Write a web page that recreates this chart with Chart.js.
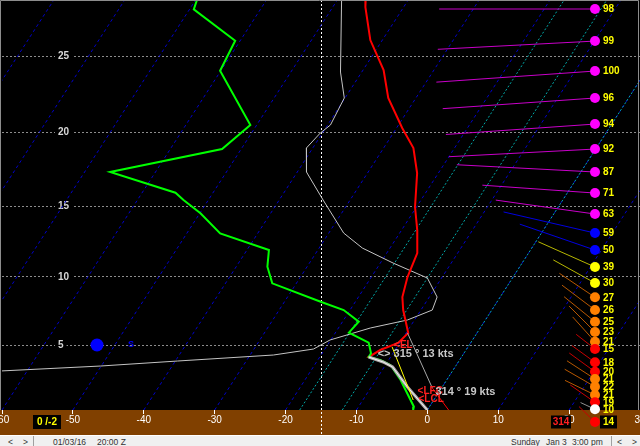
<!DOCTYPE html>
<html>
<head>
<meta charset="utf-8">
<script src="https://cdn.jsdelivr.net/npm/chart.js@4.4.1/dist/chart.umd.min.js"></script>
<style>
html, body { margin: 0; padding: 0; background: #000; }
#wrap { position: relative; width: 640px; height: 446px; overflow: hidden; }
#skew { display: block; }
#status { position: absolute; left: 0; top: 435px; width: 640px; height: 11px; background: #f0f0f0;
  border-top: 1px solid #fff; box-sizing: border-box; font: 8.5px Arial, "Liberation Sans", sans-serif; color: #333; overflow: hidden; }
#status span { position: absolute; top: 1px; line-height: 11px; white-space: pre; }
#status .sep { width: 1px; height: 11px; background: #a0a0a0; top: 0; }
</style>
</head>
<body>
<div id="wrap">
  <canvas id="skew" width="640" height="435"></canvas>
  <div id="status">
    <span style="left:8px">&lt;</span><span style="left:23px">&gt;</span><span class="sep" style="left:33px"></span>
    <span style="left:53px">01/03/16</span><span style="left:97px">20:00 Z</span>
    <span style="left:511px">Sunday</span><span style="left:546px">Jan 3</span><span style="left:572px">3:00 pm</span>
    <span class="sep" style="left:611px"></span><span style="left:617px">&lt;</span><span style="left:632px">&gt;</span>
  </div>
</div>
<script>
const FONT = 'Arial, "Liberation Sans", sans-serif';

// vertical axis: pressure (hPa), labelled in thousands of feet
const tickP = [843.1, 696.8, 571.8, 465.7, 376.0];
const tickKft = ['5', '10', '15', '20', '25'];
const P_TOP = 321.5;
const P_BOT = 1011.0;

// background isotherms (°C)
const isotherms = [-100, -90, -80, -70, -60, -50, -40, -30, -20, -10, 0, 10, 20, 30];
const zoneIsotherms = [-18, -12, 0];

// temperature profile
const tempP = [321.5, 327.9, 359.6, 391.0, 422.8, 459.8, 486.2, 521.4, 573.4, 611.4, 652.0, 697.2, 737.3, 764.6, 815.3, 838.4, 855.0, 871.9, 884.1, 896.6, 948.1, 1011.0];
const tempC = [-46.0, -45.4, -41.7, -37.1, -33.9, -29.2, -25.8, -23.0, -20.2, -17.8, -15.7, -14.9, -13.8, -12.5, -9.7, -10.2, -12.1, -13.1, -10.6, -8.8, -4.9, 0.0];

// dew point profile
const dewP = [321.5, 330.0, 360.3, 391.8, 455.9, 487.6, 519.9, 550.9, 562.3, 583.5, 617.1, 646.6, 677.4, 709.6, 747.0, 764.6, 790.0, 814.6, 837.7, 862.9, 871.6, 879.2, 891.6, 929.7, 1001.7, 1011.0];
const dewC = [-69.8, -69.4, -60.7, -60.1, -50.9, -52.7, -66.4, -55.3, -53.5, -49.9, -45.3, -36.9, -35.6, -33.4, -24.9, -20.9, -17.7, -18.1, -14.4, -13.1, -13.1, -11.2, -9.3, -6.5, -2.2, -2.0];

// low-level mixed layer (thick white)
const mixP = [871.9, 884.1, 896.6, 948.1, 1011.0];
const mixC = [-13.1, -10.6, -8.8, -4.9, 0.0];

// thin grey trace
const traceP = [321.5, 393.2, 422.8, 455.9, 466.3, 486.2, 519.9, 562.3, 616.6, 643.0, 670.5, 699.2, 737.3, 764.6, 786.2, 804.0, 831.4, 852.6, 867.0, 881.7, 894.1, 906.6];
const traceC = [-49.4, -43.0, -40.1, -39.6, -40.3, -40.9, -38.7, -33.8, -27.9, -23.9, -18.2, -12.0, -8.9, -8.4, -11.0, -15.5, -20.1, -21.6, -26.7, -39.7, -50.1, -63.8];

// parcel / helper lines
const yellowP = [847.8, 983.2];
const yellowC = [-10.7, -2.9];
const parcelP = [815.3, 950.7];
const parcelC = [-9.8, -1.3];
const parcelLowP = [950.7, 1011.0];
const parcelLowC = [-1.3, 3.0];

// winds aloft
const windP = [329.7, 360.6, 392.1, 422.8, 454.7, 487.6, 519.9, 551.4, 584.7, 616.6, 646.6, 678.0, 709.0, 737.9, 764.6, 790.0, 813.0, 835.4, 852.6, 884.9, 908.4, 927.1, 947.3, 969.5, 989.5, 1009.0];
const windDir = [270, 267, 266, 266, 266, 267, 273, 274, 278, 283, 289, 294, 299, 304, 307, 309, 315, 318, 308, 306, 306, 303, 300, 296, 305, 295];
const windKt = [98, 99, 100, 96, 94, 92, 87, 71, 63, 59, 50, 39, 30, 27, 26, 25, 23, 21, 15, 18, 20, 21, 22, 21, 19, 10];
const sfcWindDir = 314;
const sfcWindKt = 14;

// precip type marker, cursor and readouts
const precipP = 843.1;
const precipX = -46.6;
const precipType = 'S';
const cursorX = -15;
const notes = [
  { text: '<EL', p: 843.1, t: -10.6, color: '#ff2020' },
  { text: '<> 315 ° 13 kts', p: 864.6, t: -12.1, color: '#c8c8c8' },
  { text: '<LFC', p: 958.7, t: -3.1, color: '#ff2020' },
  { text: '314 ° 19 kts', p: 961.4, t: -0.5, color: '#c8c8c8' },
  { text: '<LCL', p: 981.8, t: -2.2, color: '#ff2020' }
];

const SKEW = 32.56;
const WIND_X = 23.65;
const PX_PER_KT = 1.59;
const BAND = '#804000';

const skewX = (t, p) => t + SKEW * Math.log(P_BOT / p);
const pts = (ps, ts) => ps.map((p, i) => ({ x: skewX(ts[i], p), y: p }));

function speedColor(kt) {
  if (kt >= 60) return ['#ff00ff', '#c800c8'];
  if (kt >= 50) return ['#0000ff', '#0000e0'];
  if (kt >= 30) return ['#ffff00', '#b8b800'];
  if (kt >= 21) return ['#ff8000', '#b85800'];
  if (kt >= 11) return ['#ff0000', '#c80000'];
  return ['#ffffff', '#909090'];
}

function line(label, data, color, width, dash) {
  return { label, data, showLine: true, borderColor: color, borderWidth: width, borderDash: dash || [],
    pointRadius: 0, fill: false, tension: 0 };
}

const datasets = [
  { label: 'wind', data: windP.map(p => ({ x: WIND_X, y: p })), showLine: false, clip: false,
    pointRadius: 5, pointBorderWidth: 0, pointBackgroundColor: windKt.map(k => speedColor(k)[0]) },
  { label: 'precip', data: [{ x: precipX, y: precipP }], showLine: false,
    pointRadius: 6.5, pointBorderWidth: 0, pointBackgroundColor: '#0000ff' },
  line('yellow', pts(yellowP, yellowC), '#ffff00', 1),
  line('parcelLow', pts(parcelLowP, parcelLowC), '#ff0000', 1),
  line('parcel', pts(parcelP, parcelC), '#a8a8a8', 1),
  line('mixCore', pts(mixP, mixC), '#f4f4f4', 1),
  line('mix', pts(mixP, mixC), '#a8a8a8', 3),
  line('dew', pts(dewP, dewC), '#00ff00', 2),
  line('temp', pts(tempP, tempC), '#ff0000', 2),
  line('trace', pts(traceP, traceC), '#c4c4c4', 1),
  ...zoneIsotherms.map(t => line('zone', [{ x: skewX(t, P_BOT), y: P_BOT }, { x: skewX(t, P_TOP), y: P_TOP }], '#00a8a8', 1, [2, 2])),
  ...isotherms.map(t => line('iso', [{ x: skewX(t, P_BOT), y: P_BOT }, { x: skewX(t, P_TOP), y: P_TOP }], '#0000cc', 1, [3, 3]))
];

function barb(ctx, x, y, dir, kt) {
  const len = kt * PX_PER_KT;
  const r = dir * Math.PI / 180;
  ctx.strokeStyle = speedColor(kt)[1];
  ctx.lineWidth = 1;
  ctx.beginPath();
  ctx.moveTo(x, y);
  ctx.lineTo(x + len * Math.sin(r), y - len * Math.cos(r));
  ctx.stroke();
}

function box(ctx, x, y, w, h, text, color) {
  ctx.fillStyle = '#000';
  ctx.fillRect(x, y, w, h);
  ctx.fillStyle = color;
  ctx.textAlign = 'center';
  ctx.textBaseline = 'middle';
  ctx.fillText(text, x + w / 2, y + h / 2 + 0.5);
}

const decor = {
  id: 'decor',
  beforeDraw(chart) {
    const { ctx, chartArea: a, width, height } = chart;
    ctx.save();
    ctx.fillStyle = '#000';
    ctx.fillRect(0, 0, width, height);
    ctx.fillStyle = BAND;
    ctx.fillRect(0, a.bottom, width, height - a.bottom);
    ctx.restore();
  },
  beforeDatasetsDraw(chart) {
    const { ctx, chartArea: a, scales: { x } } = chart;
    const px = Math.round(x.getPixelForValue(cursorX)) + 0.5;
    ctx.save();
    ctx.strokeStyle = '#ffffff';
    ctx.lineWidth = 1;
    ctx.setLineDash([2, 2]);
    ctx.beginPath();
    ctx.moveTo(px, a.top);
    ctx.lineTo(px, chart.height);
    ctx.stroke();
    ctx.restore();
  },
  beforeDatasetDraw(chart, args) {
    if (chart.data.datasets[args.index].label !== 'wind') return;
    const { ctx, scales: { x, y } } = chart;
    const px = x.getPixelForValue(WIND_X);
    ctx.save();
    windP.forEach((p, i) => barb(ctx, px, y.getPixelForValue(p), windDir[i], windKt[i]));
    ctx.restore();
  },
  afterDatasetsDraw(chart) {
    const { ctx, chartArea: a, scales: { x, y } } = chart;
    const px = x.getPixelForValue(WIND_X);
    ctx.save();
    // wind speed labels
    ctx.font = 'bold 10px ' + FONT;
    ctx.fillStyle = '#ffff00';
    ctx.textAlign = 'left';
    ctx.textBaseline = 'middle';
    windP.forEach((p, i) => ctx.fillText(String(windKt[i]), px + 8, y.getPixelForValue(p) + 0.5));

    // surface wind in the band
    const cy = a.bottom + 12;
    barb(ctx, px, cy, sfcWindDir, sfcWindKt);
    ctx.fillStyle = speedColor(sfcWindKt)[0];
    ctx.beginPath();
    ctx.arc(px, cy, 5, 0, Math.PI * 2);
    ctx.fill();
    ctx.font = 'bold 10px ' + FONT;
    box(ctx, px + 5, cy - 6.5, 17, 13, String(sfcWindKt), '#ffff00');
    box(ctx, px - 44, cy - 6.5, 20, 13, String(sfcWindDir), '#ff2020');
    box(ctx, 33, cy - 7, 28, 14, Math.round(tempC[tempC.length - 1]) + ' /' + Math.round(dewC[dewC.length - 1]), '#ffff00');

    // precip type label
    ctx.font = 'bold 9px ' + FONT;
    ctx.fillStyle = '#0000ff';
    ctx.textAlign = 'center';
    ctx.fillText(precipType, x.getPixelForValue(precipX) + 34, y.getPixelForValue(precipP));

    // profile annotations
    ctx.textAlign = 'left';
    notes.forEach(n => {
      ctx.font = (n.color === '#ff2020' ? 'bold 10px ' : 'bold 11px ') + FONT;
      ctx.fillStyle = n.color;
      ctx.fillText(n.text, x.getPixelForValue(skewX(n.t, n.p)), y.getPixelForValue(n.p));
    });

    // frame
    ctx.strokeStyle = '#8c8c8c';
    ctx.lineWidth = 1;
    ctx.beginPath();
    ctx.moveTo(0.5, a.bottom);
    ctx.lineTo(0.5, 0.5);
    ctx.lineTo(638.5, 0.5);
    ctx.lineTo(638.5, a.bottom);
    ctx.stroke();
    ctx.restore();
  }
};

new Chart(document.getElementById('skew'), {
  type: 'scatter',
  data: { datasets },
  options: {
    responsive: false,
    animation: false,
    events: [],
    layout: { padding: { left: 2, top: 0, right: 0, bottom: 0 }, autoPadding: false },
    plugins: { legend: { display: false }, tooltip: { enabled: false } },
    scales: {
      x: {
        type: 'linear', min: -60, max: 30,
        ticks: { stepSize: 10, color: '#ffffff', font: { size: 10, family: FONT }, padding: 0, autoSkip: false, maxRotation: 0 },
        grid: { drawOnChartArea: false, drawTicks: true, tickLength: 4, tickColor: '#ffffff' },
        border: { display: false },
        afterFit: s => { s.height = 25; s.paddingLeft = 0; s.paddingRight = 0; }
      },
      y: {
        type: 'logarithmic', reverse: true, min: P_TOP, max: P_BOT,
        afterBuildTicks: s => { s.ticks = tickP.map(v => ({ value: v })); },
        ticks: {
          callback: (v, i) => tickKft[i], mirror: true, padding: 56, autoSkip: false,
          color: '#d8d8d8', font: { size: 10, family: FONT, weight: 'bold' },
          showLabelBackdrop: true, backdropColor: '#000000', backdropPadding: { x: 3, y: 0 }
        },
        grid: { color: '#8c8c8c', drawTicks: false },
        border: { display: false, dash: [2, 2] },
        afterFit: s => { s.width = 0; s.paddingTop = 0; s.paddingBottom = 0; }
      }
    }
  },
  plugins: [decor]
});
</script>
</body>
</html>
